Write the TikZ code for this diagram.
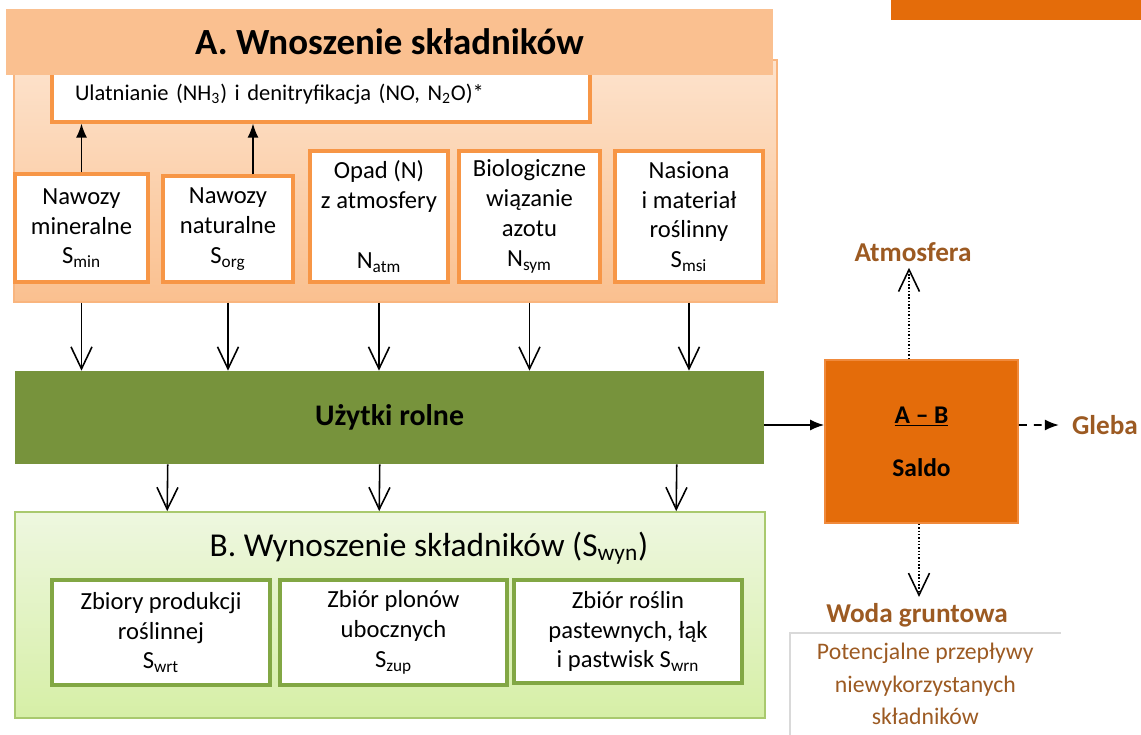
\documentclass[tikz,border=0pt]{standalone}
\usepackage{fontspec}
\setmainfont{Carlito}
\usetikzlibrary{arrows.meta, positioning, calc}

\definecolor{titleor}{HTML}{FAC090}
\definecolor{contAtop}{HTML}{FDE3CD}
\definecolor{contAbot}{HTML}{FAC08F}
\definecolor{boxor}{HTML}{F79646}
\definecolor{uzgreen}{HTML}{77933C}
\definecolor{contBtop}{HTML}{EEF7E0}
\definecolor{contBbot}{HTML}{D6EFA6}
\definecolor{contBedge}{HTML}{A9C96E}
\definecolor{boxgr}{HTML}{82A744}
\definecolor{saldoor}{HTML}{E46C0A}
\definecolor{saldoedge}{HTML}{F08A3C}
\definecolor{brn}{HTML}{9C5A22}

\begin{document}
\begin{tikzpicture}[
  x=0.02cm, y=-0.02cm,
  inbox/.style  = {draw=boxor, line width=1.8pt, fill=white, align=center,
                   inner sep=2pt, font=\fontsize{14}{17}\selectfont},
  outbox/.style = {draw=boxgr, line width=1.8pt, fill=white, align=center,
                   inner sep=2pt, font=\fontsize{14}{17}\selectfont},
  lab/.style    = {text=brn, font=\bfseries\fontsize{15.5}{18}\selectfont},
  vtip/.style   = {-{Straight Barb[length=0.44cm, width=0.42cm]}, line width=0.9pt},
  ftip/.style   = {-{Latex[length=0.28cm, width=0.22cm]}, line width=0.9pt},
]
  \useasboundingbox (0,0) rectangle (1141,734);

  % Corner tab
  \fill[saldoor] (891,0) rectangle (1141,20);

  % A. inputs block
  \node[draw=boxor!70, line width=0.8pt, top color=contAtop, bottom color=contAbot,
        minimum width=15.26cm, minimum height=4.84cm]          (contA)  at (395.5,181) {};
  \node[inbox, align=left, text width=9.84cm, inner xsep=0.46cm,
        minimum height=1.12cm, font=\fontsize{12.8}{15}\selectfont] (volat) at (321,94)
       {Ulatnianie (NH\textsubscript{3}) i denitryfikacja (NO, N\textsubscript{2}O)*};
  \node[fill=titleor, minimum width=15.34cm, minimum height=1.32cm,
        font=\bfseries\fontsize{21}{24}\selectfont]            (titleA) at (389.5,42)
       {A. Wnoszenie składników};

  \node[inbox, minimum width=2.66cm, minimum height=2.16cm] (smin) at (81.5,228)
       {Nawozy\\mineralne\\S\textsubscript{min}};
  \node[inbox, minimum width=2.60cm, minimum height=2.12cm] (sorg) at (228,229)
       {Nawozy\\naturalne\\S\textsubscript{org}};
  \node[inbox, minimum width=2.76cm, minimum height=2.62cm] (natm) at (379,216.5)
       {Opad (N)\\z atmosfery\\[17pt]N\textsubscript{atm}};
  \node[inbox, minimum width=2.82cm, minimum height=2.62cm] (nsym) at (529.5,216.5)
       {Biologiczne\\wiązanie\\azotu\\N\textsubscript{sym}};
  \node[inbox, minimum width=2.96cm, minimum height=2.62cm] (smsi) at (689,216.5)
       {Nasiona\\i materiał\\roślinny\\S\textsubscript{msi}};

  % Losses to air
  \draw[ftip] (smin.north) -- (smin.north |- volat.south);
  \coordinate (sorgup) at ($(sorg.north)+(25,0)$);
  \draw[ftip] (sorgup) -- (sorgup |- volat.south);

  % Agricultural land
  \node[fill=uzgreen, minimum width=14.98cm, minimum height=1.86cm,
        font=\bfseries\fontsize{17}{20}\selectfont]            (uzytki) at (389.5,417.5)
       {Użytki rolne};
  \foreach \nd in {smin,sorg,natm,nsym,smsi}
    \draw[vtip] (\nd.south |- contA.south) -- (\nd.south |- uzytki.north);

  % B. outputs block
  \node[draw=contBedge, line width=1pt, top color=contBtop, bottom color=contBbot,
        minimum width=15cm, minimum height=4.12cm]             (contB)  at (390,615) {};
  \node[font=\fontsize{19}{22}\selectfont]                      (titleB) at (429,548)
       {B. Wynoszenie składników (S\textsubscript{wyn})};
  \node[outbox, minimum width=4.36cm, minimum height=2.10cm] (swrt) at (161,632.5)
       {Zbiory produkcji\\roślinnej\\S\textsubscript{wrt}};
  \node[outbox, minimum width=4.54cm, minimum height=2.10cm] (szup) at (393.5,632.5)
       {Zbiór plonów\\ubocznych\\S\textsubscript{zup}};
  \node[outbox, minimum width=4.56cm, minimum height=2.06cm] (swrn) at (628,631.5)
       {Zbiór roślin\\pastewnych, łąk\\i pastwisk S\textsubscript{wrn}};
  \foreach \dx in {153,365,662}
    \draw[vtip] ($(uzytki.south west)+(\dx,0)$) -- ($(contB.north west)+(\dx,0)$);

  % Balance
  \node[fill=saldoor, draw=saldoedge, line width=1pt, minimum width=3.86cm,
        minimum height=3.26cm, align=center,
        font=\bfseries\fontsize{14.5}{17}\selectfont]          (saldo)  at (921.5,441.5)
       {\underline{A – B}\\[13pt]Saldo};
  \coordinate (uzout) at ($(uzytki.east)+(0,7.5)$);
  \draw[ftip] (uzout) -- (uzout -| saldo.west);

  % Where the surplus goes
  \node[lab] (atmo)  at (913,252)  {Atmosfera};
  \node[lab] (gleba) at (1105,425) {Gleba};
  \node[lab] (woda)  at (917,615)  {Woda gruntowa};

  \coordinate (atup) at ($(saldo.north)+(-12.5,0)$);
  \draw[vtip, densely dotted] (atup) -- (atup |- atmo.south);
  \coordinate (wdn) at ($(saldo.south)+(-2.5,0)$);
  \draw[vtip, densely dotted] (wdn) -- (wdn |- woda.north);
  \draw[ftip, dash pattern=on 4.5pt off 4pt, shorten >=4pt] (uzout -| saldo.east) -- (gleba.west);

  % Note
  \node[anchor=north west, minimum width=5.4cm, minimum height=2.02cm, text=brn,
        align=center, font=\fontsize{13.5}{18.5}\selectfont]   (potenc) at (790,633)
       {Potencjalne przepływy\\niewykorzystanych\\składników};
  \draw[gray!30, line width=0.8pt] (potenc.south west) -- (potenc.north west) -- (potenc.north east);
\end{tikzpicture}
\end{document}
